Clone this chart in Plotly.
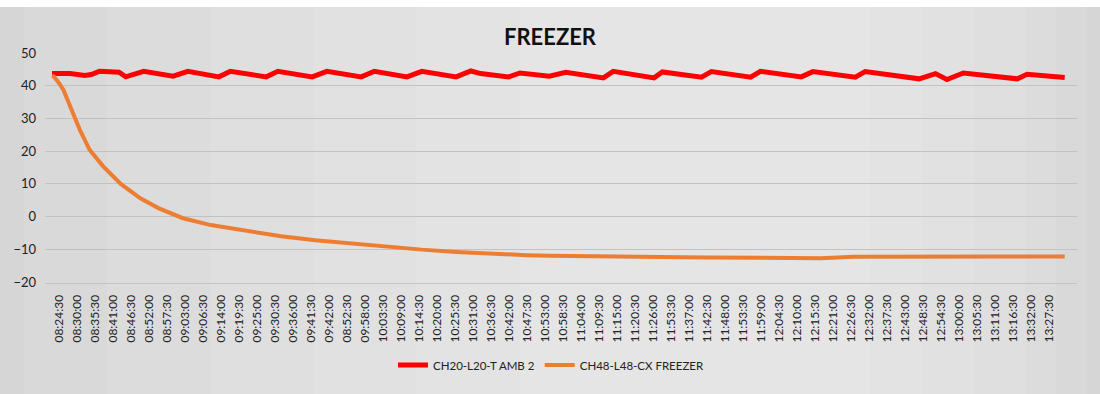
import plotly.graph_objects as go

# ---- tick labels (one every 11 samples of 30 s) ----
time_labels = [
    "08:24:30", "08:30:00", "08:35:30", "08:41:00", "08:46:30", "08:52:00", "08:57:30",
    "09:03:00", "09:06:30", "09:14:00", "09:19:30", "09:25:00", "09:30:30", "09:36:00",
    "09:41:30", "09:42:00", "08:52:30", "09:58:00", "10:03:30", "10:09:00", "10:14:30",
    "10:20:00", "10:25:30", "10:31:00", "10:36:30", "10:42:00", "10:47:30", "10:53:00",
    "10:58:30", "11:04:00", "11:09:30", "11:15:00", "11:20:30", "11:26:00", "11:53:30",
    "11:37:00", "11:42:30", "11:48:00", "11:53:30", "11:59:00", "12:04:30", "12:10:00",
    "12:15:30", "12:21:00", "12:26:30", "12:32:00", "12:37:30", "12:43:00", "12:48:30",
    "12:54:30", "13:00:00", "13:05:30", "13:11:00", "13:16:30", "13:32:00", "13:27:30",
]
label_step = 11  # samples between labels

# ---- series: sample index -> temperature ----
amb_idx = [0, 11, 20, 24, 29, 41, 45, 56, 74, 83, 102, 109, 131, 138, 159, 168, 189, 197,
           217, 226, 247, 256, 262, 279, 286, 304, 314, 337, 343, 368, 373, 397, 403, 427,
           433, 458, 465, 491, 497, 530, 540, 547, 557, 590, 596, 619]
amb_val = [43.7, 43.7, 43.1, 43.4, 44.4, 44.1, 42.7, 44.4, 42.9, 44.4, 42.7, 44.4, 42.7,
           44.4, 42.7, 44.4, 42.7, 44.4, 42.7, 44.4, 42.7, 44.5, 43.7, 42.7, 43.9, 42.9,
           44.1, 42.4, 44.4, 42.4, 44.2, 42.6, 44.3, 42.6, 44.4, 42.7, 44.3, 42.6, 44.3,
           42.1, 43.7, 41.9, 43.9, 42.1, 43.5, 42.5]

frz_idx = [0, 1, 4, 7, 12, 17, 23, 31, 42, 54, 65, 80, 97, 118, 140, 161, 183, 204, 226,
           247, 268, 290, 304, 330, 364, 400, 434, 470, 490, 540, 580, 619]
frz_val = [43.0, 42.8, 41.0, 38.7, 32.6, 26.5, 20.4, 15.5, 10.0, 5.6, 2.6, -0.5, -2.6,
           -4.4, -6.0, -7.2, -8.2, -9.2, -10.1, -10.8, -11.4, -11.8, -12.0, -12.2, -12.4,
           -12.5, -12.6, -12.7, -12.3, -12.2, -12.2, -12.2]

series_names = ["CH20-L20-T AMB 2", "CH48-L48-CX FREEZER"]
title_text = "FREEZER"

FONT = "Lato, 'Open Sans', sans-serif"

fig = go.Figure()
fig.add_trace(go.Scatter(x=amb_idx, y=amb_val, mode="lines", name=series_names[0],
                         line=dict(color="#ff0000", width=5)))
fig.add_trace(go.Scatter(x=frz_idx, y=frz_val, mode="lines", name=series_names[1],
                         line=dict(color="#ed7d31", width=4)))

# background: white strip on top, gray with lighter centre
shapes = [dict(type="rect", xref="paper", yref="paper", x0=-0.06, x1=1.06, y0=1.195, y1=1.3,
               fillcolor="white", line=dict(width=0), layer="below")]
bands = [(-0.02, 1.01), (0.06, 0.98), (0.16, 0.95), (0.26, 0.9), (0.36, 0.85), (0.46, 0.8)]
for x0, x1 in bands:
    shapes.append(dict(type="rect", xref="paper", yref="paper", x0=x0, x1=x1, y0=-0.6, y1=1.195,
                       fillcolor="rgba(255,255,255,0.09)", line=dict(width=0), layer="below"))

fig.update_layout(
    width=1100, height=394,
    margin=dict(l=45, r=23, t=52, b=111),
    paper_bgcolor="#d6d6d6",
    plot_bgcolor="rgba(0,0,0,0)",
    font=dict(family=FONT, color="#222222"),
    title=dict(text="<b>" + title_text + "</b>", x=550 / 1100, xanchor="center", xref="container",
               y=1 - 37 / 394, yref="container", yanchor="middle",
               font=dict(family=FONT, size=22, color="#111111")),
    showlegend=True,
    legend=dict(orientation="h", x=(551 - 45) / 1032, xanchor="center", y=-0.355, yanchor="middle",
                xref="paper",
                font=dict(family=FONT, size=11.5, color="#222222"),
                bgcolor="rgba(0,0,0,0)", itemwidth=30),
    shapes=shapes,
)

fig.update_xaxes(
    range=[-4.3, 626.5],
    tickmode="array",
    tickvals=[i * label_step for i in range(len(time_labels))],
    ticktext=time_labels,
    tickangle=-90,
    tickfont=dict(family=FONT, size=12, color="#222222"),
    showgrid=False, zeroline=False,
    showline=True, linecolor="#c4c4c4", linewidth=1,
    ticks="", ticklabelstandoff=6, ticklabelshift=7, automargin=False,
)
fig.update_yaxes(
    range=[-20.3, 50.3],
    tickmode="array", tickvals=[-20, -10, 0, 10, 20, 30, 40, 50],
    tickfont=dict(family=FONT, size=13, color="#222222"),
    showgrid=True, gridcolor="#c2c2c2", gridwidth=1,
    zeroline=False, showline=False, ticks="", ticklabelstandoff=8, automargin=False,
)

fig.write_html("out.html", config={"displayModeBar": False},
               post_script="document.body.style.margin='0px';")
